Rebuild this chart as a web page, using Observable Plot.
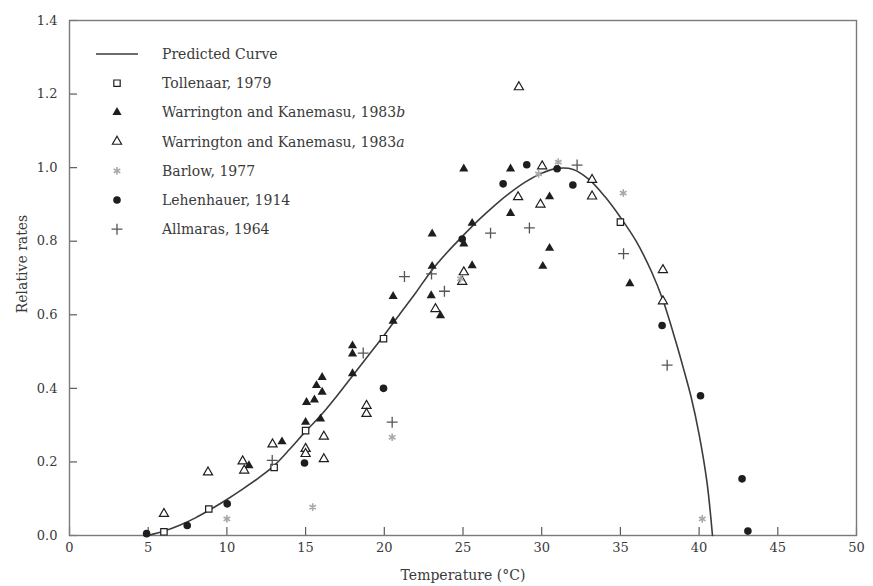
<!DOCTYPE html>
<html>
<head>
<meta charset="utf-8">
<script src="https://cdn.jsdelivr.net/npm/d3@7"></script>
<script src="https://cdn.jsdelivr.net/npm/@observablehq/plot@0.6"></script>
<style>
  html, body { margin: 0; padding: 0; background: #fff; }
  #chart { width: 873px; height: 586px; }
</style>
</head>
<body>
<div id="chart"></div>
<script>
// Relative development rate vs temperature: fitted curve and observations from six studies.

// Predicted curve, [temperature °C, relative rate]
const predicted = [
  [5, 0], [6, 0.012], [7, 0.028], [8, 0.048], [9, 0.072], [10, 0.098],
  [11, 0.126], [12, 0.156], [13, 0.19], [14, 0.235], [15, 0.283], [16, 0.328],
  [17, 0.38], [18, 0.435], [19, 0.49], [20, 0.545], [21, 0.603], [22, 0.66],
  [23, 0.72], [24, 0.77], [25, 0.815], [26, 0.858], [27, 0.897], [28, 0.932],
  [29, 0.962], [30, 0.985], [31, 0.998], [32, 0.995], [33, 0.968], [34, 0.922],
  [35, 0.865], [36, 0.80], [37, 0.715], [37.7, 0.64], [38.5, 0.53], [39, 0.455],
  [39.5, 0.375], [40, 0.275], [40.5, 0.145], [40.85, 0]
];

// Tollenaar, 1979
const tollenaar = [
  [6.0, 0.01], [8.85, 0.072], [13.0, 0.185], [15.0, 0.285], [19.95, 0.535], [35.0, 0.852]
];

// Warrington and Kanemasu, 1983b
const warringtonB = [
  [11.4, 0.19], [13.5, 0.255], [15.06, 0.362], [15.56, 0.369], [15.69, 0.408],
  [16.05, 0.43], [16.05, 0.39], [15.0, 0.308], [15.95, 0.317], [17.98, 0.516],
  [17.98, 0.494], [17.98, 0.44], [20.56, 0.65], [20.56, 0.583], [22.98, 0.652],
  [23.04, 0.82], [23.04, 0.732], [23.57, 0.598], [25.05, 0.997], [25.58, 0.849],
  [25.58, 0.734], [25.05, 0.793], [28.02, 0.997], [28.02, 0.876], [30.07, 0.732],
  [30.5, 0.921], [30.5, 0.781], [35.6, 0.685]
];

// Warrington and Kanemasu, 1983a
const warringtonA = [
  [6.0, 0.059], [8.8, 0.172], [11.0, 0.202], [11.1, 0.177], [12.9, 0.248],
  [15.0, 0.236], [15.0, 0.222], [16.16, 0.269], [16.16, 0.208], [18.87, 0.353],
  [18.87, 0.331], [23.25, 0.616], [24.95, 0.69], [25.05, 0.716], [28.5, 0.92],
  [28.55, 1.219], [29.92, 0.90], [30.03, 1.004], [33.2, 0.967], [33.2, 0.922],
  [37.7, 0.722], [37.7, 0.637]
];

// Barlow, 1977
const barlow = [
  [10.0, 0.045], [15.45, 0.077], [20.5, 0.267], [24.84, 0.698], [29.8, 0.983],
  [31.05, 1.015], [35.18, 0.931], [40.2, 0.045]
];

// Lehenhauer, 1914
const lehenhauer = [
  [4.9, 0.005], [7.48, 0.027], [10.02, 0.086], [14.93, 0.197], [19.95, 0.40],
  [24.95, 0.806], [27.55, 0.956], [29.05, 1.008], [30.98, 0.997], [31.98, 0.953],
  [37.65, 0.571], [40.09, 0.38], [42.73, 0.154], [43.1, 0.012]
];

// Allmaras, 1964
const allmaras = [
  [12.88, 0.204], [18.66, 0.496], [20.5, 0.308], [21.28, 0.704], [23.0, 0.711],
  [23.82, 0.664], [26.75, 0.822], [29.22, 0.836], [32.25, 1.007], [35.2, 0.766],
  [37.97, 0.463]
];

const xTicks = [0, 5, 10, 15, 20, 25, 30, 35, 40, 45, 50];
const yTicks = [0, 0.2, 0.4, 0.6, 0.8, 1.0, 1.2, 1.4];

const ink = "#1e1e1e";
const axisInk = "#5a5a5a";
const textInk = "#3a3a3a";
const serif = "'DejaVu Serif', 'Liberation Serif', serif";

const width = 873, height = 586;
const margin = {top: 20, right: 17, bottom: 51, left: 69};
const frameW = width - margin.left - margin.right;
const frameH = height - margin.top - margin.bottom;
const tickLength = 8;

// Marker styles shared by the plot and its key
const styles = {
  tollenaar:   {symbol: "square",   r: 3.6, fill: "#fff", stroke: ink, strokeWidth: 1.2},
  warringtonB: {symbol: "triangle", r: 3.4, fill: ink, stroke: "none", strokeWidth: 0},
  warringtonA: {symbol: "triangle", r: 3.4, fill: "#fff", stroke: ink, strokeWidth: 1.2},
  barlow:      {symbol: "asterisk", r: 3.6, fill: "none", stroke: "#a8a8a8", strokeWidth: 1.6},
  lehenhauer:  {symbol: "circle",   r: 3.8, fill: ink, stroke: "none", strokeWidth: 0},
  allmaras:    {symbol: "plus",     r: 3.6, fill: "none", stroke: "#555", strokeWidth: 1.3}
};

const series = [
  {key: "tollenaar", data: tollenaar},
  {key: "warringtonB", data: warringtonB},
  {key: "warringtonA", data: warringtonA},
  {key: "barlow", data: barlow},
  {key: "lehenhauer", data: lehenhauer},
  {key: "allmaras", data: allmaras}
];

const dotMarks = series.map(({key, data}) =>
  Plot.dot(data, {x: d => d[0], y: d => d[1], ...styles[key]})
);

const chart = Plot.plot({
  width,
  height,
  marginLeft: margin.left,
  marginRight: margin.right,
  marginTop: margin.top,
  marginBottom: margin.bottom,
  style: {fontFamily: serif, fontSize: "13px", color: textInk, background: "#fff"},
  x: {domain: [0, 50], ticks: xTicks},
  y: {domain: [0, 1.4], ticks: yTicks},
  marks: [
    // inward tick marks: rules inset to leave only a short stub at the axis
    Plot.ruleX(xTicks, {x: d => d, insetTop: frameH - tickLength, stroke: axisInk, strokeWidth: 1.2}),
    Plot.ruleY(yTicks, {y: d => d, insetRight: frameW - tickLength, stroke: axisInk, strokeWidth: 1.2}),
    Plot.frame({stroke: "#7a7a7a", strokeWidth: 1.4}),
    // tick labels
    Plot.axisX({ticks: xTicks, tickSize: 0, tickPadding: 7, tickFormat: d => String(d), label: null}),
    Plot.axisY({ticks: yTicks, tickSize: 0, tickPadding: 12, tickFormat: d => d.toFixed(1), label: null}),
    // axis titles
    Plot.text(["Temperature (°C)"], {frameAnchor: "bottom", dy: 40, textAnchor: "middle", lineAnchor: "middle", text: d => d, fontSize: 14, fill: textInk}),
    Plot.text(["Relative rates"], {frameAnchor: "left", dx: -47, dy: -14, textAnchor: "middle", lineAnchor: "middle", rotate: -90, text: d => d, fontSize: 14, fill: textInk}),
    Plot.line(predicted, {x: d => d[0], y: d => d[1], curve: "catmull-rom", stroke: "#3c3c3c", strokeWidth: 1.6}),
    ...dotMarks
  ]
});

document.getElementById("chart").appendChild(chart);

// Key in the upper-left of the plotting area
const keyRows = [
  {label: ["Predicted Curve"], line: true},
  {label: ["Tollenaar, 1979"], key: "tollenaar"},
  {label: ["Warrington and Kanemasu, 1983", "b"], key: "warringtonB"},
  {label: ["Warrington and Kanemasu, 1983", "a"], key: "warringtonA"},
  {label: ["Barlow, 1977"], key: "barlow"},
  {label: ["Lehenhauer, 1914"], key: "lehenhauer"},
  {label: ["Allmaras, 1964"], key: "allmaras"}
];

const symbolTypes = {
  square: d3.symbolSquare, triangle: d3.symbolTriangle, asterisk: d3.symbolAsterisk,
  circle: d3.symbolCircle, plus: d3.symbolPlus
};

const key = d3.select(chart).append("g")
  .attr("font-family", serif)
  .attr("font-size", 14)
  .attr("text-anchor", "start")
  .attr("fill", textInk);

keyRows.forEach((row, i) => {
  const y = 54 + i * 29.2;
  if (row.line) {
    key.append("line")
      .attr("x1", 96).attr("x2", 138).attr("y1", y).attr("y2", y)
      .attr("stroke", "#3c3c3c").attr("stroke-width", 1.6);
  } else {
    const s = styles[row.key];
    key.append("path")
      .attr("transform", `translate(117,${y})`)
      .attr("d", d3.symbol(symbolTypes[s.symbol], Math.PI * s.r * s.r)())
      .attr("fill", s.fill)
      .attr("stroke", s.stroke)
      .attr("stroke-width", s.strokeWidth);
  }
  const t = key.append("text").attr("x", 162).attr("y", y).attr("dy", "0.35em");
  t.append("tspan").text(row.label[0]);
  if (row.label[1]) t.append("tspan").attr("font-style", "italic").text(row.label[1]);
});
</script>
</body>
</html>
